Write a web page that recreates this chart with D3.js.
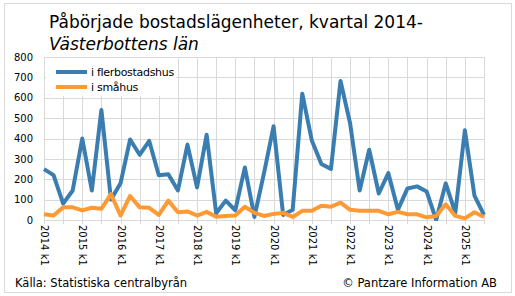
<!DOCTYPE html>
<html lang="sv">
<head>
<meta charset="UTF-8">
<script src="https://cdn.jsdelivr.net/npm/d3@7/dist/d3.min.js"></script>
<title>Påbörjade bostadslägenheter</title>
<style>
  body { margin: 0; background: #fff; }
  svg text { font-family: "DejaVu Sans", Verdana, sans-serif; fill: #000; }
  .grid line { stroke: #d9d9d9; stroke-width: 1; }
</style>
</head>
<body>
<svg id="chart" width="515" height="296"></svg>
<script>
// kvartal 2014 k1 .. 2025 k3
var years = d3.range(2014, 2026);
var quarters = [];
years.forEach(function(yr) {
  [1, 2, 3, 4].forEach(function(q) {
    if (yr === 2025 && q > 3) return;
    quarters.push(yr + " k" + q);
  });
});

var flerbostadshus = [250, 220, 80, 145, 400, 145, 540, 100, 180, 395, 320, 388,
                      220, 225, 145, 370, 160, 418, 33, 95, 48, 258, 15, 230,
                      460, 25, 50, 620, 390, 275, 250, 682, 475, 145, 345, 130,
                      230, 50, 155, 165, 140, 0, 180, 35, 440, 120, 25];
var smahus = [28, 22, 62, 62, 47, 60, 55, 127, 22, 118, 62, 60,
              25, 95, 38, 42, 22, 40, 16, 20, 22, 65, 35, 20,
              30, 35, 15, 45, 45, 70, 65, 85, 50, 45, 45, 45,
              28, 40, 28, 28, 13, 20, 77, 20, 8, 38, 15];
var yTicks = [0, 100, 200, 300, 400, 500, 600, 700, 800];

var series = [
  { name: "i flerbostadshus", values: flerbostadshus, color: "#3a7db0" },
  { name: "i småhus", values: smahus, color: "#ff9933" }
];

var svg = d3.select("#chart");
var mLeft = 44, mRight = 484, mTop = 57, mBottom = 220;

// ram runt diagrammet
svg.append("rect")
  .attr("x", 4.5).attr("y", 3.5).attr("width", 507).attr("height", 289)
  .attr("fill", "none").attr("stroke", "#d9d9d9");

var x = d3.scaleLinear().domain([0, quarters.length - 1]).range([mLeft, mRight]);
var y = d3.scaleLinear().domain([0, 800]).range([mBottom, mTop]);

// stödlinjer
var grid = svg.append("g").attr("class", "grid");
grid.selectAll("line.h").data(yTicks).enter().append("line")
  .attr("class", "h")
  .attr("x1", mLeft).attr("x2", mRight)
  .attr("y1", function(d) { return Math.round(y(d)) + 0.5; })
  .attr("y2", function(d) { return Math.round(y(d)) + 0.5; });
grid.selectAll("line.v").data(d3.range(0, quarters.length + 1, 2)).enter().append("line")
  .attr("class", "v")
  .attr("x1", function(d) { return Math.round(x(d)) + 0.5; })
  .attr("x2", function(d) { return Math.round(x(d)) + 0.5; })
  .attr("y1", mTop).attr("y2", mBottom + 4);

// y-axel
var yAxis = d3.axisLeft(y).tickValues(yTicks).tickSize(0).tickPadding(11);
svg.append("g").attr("transform", "translate(" + mLeft + ",0)").call(yAxis)
  .call(function(g) {
    g.select(".domain").remove();
    g.selectAll("text").style("font-size", "10px")
      .style("font-family", "\"DejaVu Sans\", Verdana, sans-serif");
  });

// x-axel, etiketter varje år
var xAxis = d3.axisBottom(x)
  .tickValues(d3.range(0, quarters.length, 4))
  .tickFormat(function(i) { return quarters[i]; })
  .tickSize(0);
svg.append("g").attr("transform", "translate(0," + mBottom + ")").call(xAxis)
  .call(function(g) {
    g.select(".domain").remove();
    g.selectAll("text")
      .style("font-size", "10px")
      .style("font-family", "\"DejaVu Sans\", Verdana, sans-serif")
      .attr("text-anchor", "start")
      .attr("dy", "0.35em")
      .attr("transform", "translate(0,5) rotate(90)")
      .attr("y", 0).attr("x", 0);
  });

// linjer
var line = d3.line()
  .x(function(d, i) { return x(i); })
  .y(function(d) { return y(d); });

svg.append("defs").append("clipPath").attr("id", "plot")
  .append("rect").attr("x", mLeft - 5).attr("y", mTop - 5)
  .attr("width", mRight - mLeft + 10).attr("height", mBottom - mTop + 6);

svg.append("g").attr("clip-path", "url(#plot)")
  .selectAll("path").data(series).enter().append("path")
  .attr("d", function(s) { return line(s.values); })
  .attr("fill", "none")
  .attr("stroke", function(s) { return s.color; })
  .attr("stroke-width", 4)
  .attr("stroke-linejoin", "round");

// förklaring
var legend = svg.append("g");
legend.append("rect").attr("x", 46).attr("y", 58).attr("width", 130).attr("height", 38)
  .attr("fill", "#fff");
var item = legend.selectAll("g").data(series).enter().append("g")
  .attr("transform", function(d, i) { return "translate(0," + (72 + i * 15) + ")"; });
item.append("line").attr("x1", 56).attr("x2", 87).attr("y1", 0).attr("y2", 0)
  .attr("stroke", function(d) { return d.color; }).attr("stroke-width", 4);
item.append("text").attr("x", 91).attr("y", 4)
  .style("font-size", "11px").style("letter-spacing", "-0.3px")
  .text(function(d) { return d.name; });

// rubrik
svg.append("text").attr("x", 49).attr("y", 28).style("font-size", "17px")
  .text("Påbörjade bostadslägenheter, kvartal 2014-");
svg.append("text").attr("x", 49).attr("y", 50).style("font-size", "17px")
  .style("font-style", "italic").text("Västerbottens län");

// källa
svg.append("text").attr("x", 15).attr("y", 287).style("font-size", "11.5px")
  .text("Källa: Statistiska centralbyrån");
svg.append("text").attr("x", 497).attr("y", 287).attr("text-anchor", "end")
  .style("font-size", "11.5px").text("© Pantzare Information AB");
</script>
</body>
</html>
